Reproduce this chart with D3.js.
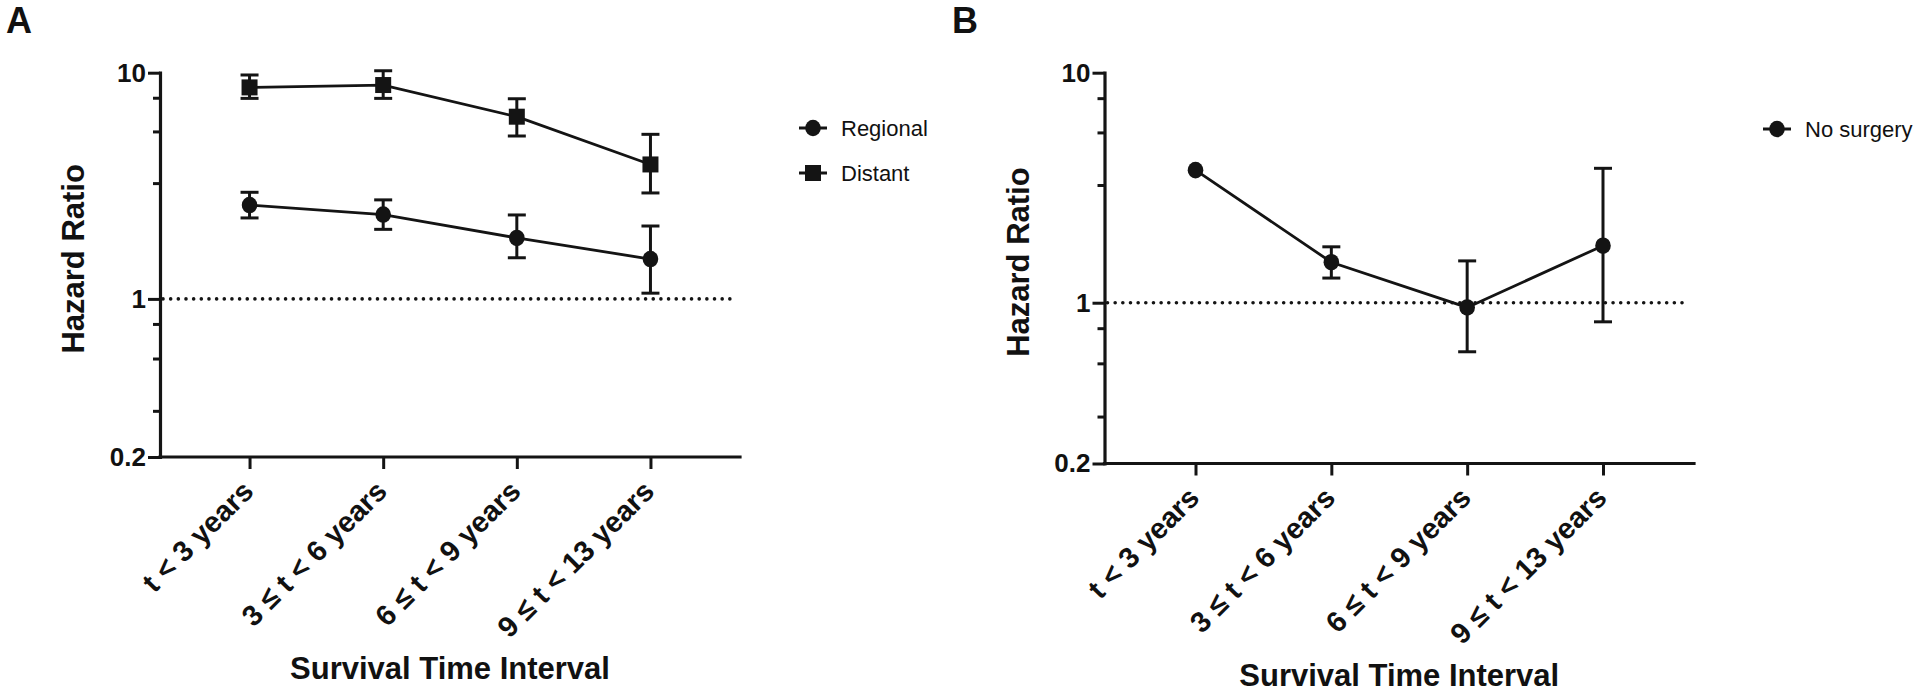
<!DOCTYPE html>
<html>
<head>
<meta charset="utf-8">
<script src="https://cdn.jsdelivr.net/npm/d3@7"></script>
<style>
  html, body { margin: 0; padding: 0; background: #fff; }
  svg { display: block; }
  text { font-family: "Liberation Sans", Arial, Helvetica, sans-serif; fill: #111; }
</style>
</head>
<body>
<svg id="chart" width="1920" height="697"></svg>
<script>
// ---------------- data ----------------
const categories = ["t < 3 years", "3 \u2264 t < 6 years", "6 \u2264 t < 9 years", "9 \u2264 t < 13 years"];

const regionalHR = [2.60, 2.36, 1.86, 1.50];
const regionalLo = [2.28, 2.03, 1.52, 1.06];
const regionalHi = [2.96, 2.74, 2.35, 2.10];

const distantHR = [8.61, 8.82, 6.39, 3.93];
const distantLo = [7.70, 7.70, 5.25, 2.94];
const distantHi = [9.77, 10.2, 7.67, 5.34];

const noSurgeryHR = [3.77, 1.50, 0.954, 1.77];
const noSurgeryLo = [3.66, 1.28, 0.612, 0.826];
const noSurgeryHi = [3.88, 1.75, 1.52, 3.84];

const yMajorTicks = [0.2, 1, 10];
const yMinorTicks = [0.32, 0.545, 0.775, 3.25, 5.5, 7.75];
const yDomain = [0.2, 10];
const refLine = 1;

const legendA = ["Regional", "Distant"];
const legendB = ["No surgery"];
const xTitle = "Survival Time Interval";
const yTitle = "Hazard Ratio";

// ---------------- drawing ----------------
const svg = d3.select("#chart");
const INK = "#141414";

function panel(cfg) {
  const g = svg.append("g");
  const x = d3.scalePoint().domain(categories).range([cfg.left, cfg.right]).padding(0.67);
  const y = d3.scaleLog().domain(yDomain).range([cfg.bottom, cfg.top]);

  // reference line at HR = 1
  g.append("line")
    .attr("x1", cfg.left + 3).attr("x2", cfg.right - 6)
    .attr("y1", y(refLine)).attr("y2", y(refLine))
    .attr("stroke", INK).attr("stroke-width", 3.6)
    .attr("stroke-linecap", "round").attr("stroke-dasharray", "0.01 7.65");

  // minor y ticks
  const yMinor = g.append("g").attr("transform", `translate(${cfg.left},0)`)
    .call(d3.axisLeft(y).tickValues(yMinorTicks).tickSize(7).tickSizeOuter(0).tickFormat(""));
  yMinor.select(".domain").remove();
  yMinor.selectAll(".tick line").attr("stroke", INK).attr("stroke-width", 3);

  // major y ticks with labels
  const yAx = g.append("g").attr("transform", `translate(${cfg.left},0)`)
    .call(d3.axisLeft(y).tickValues(yMajorTicks).tickSize(12).tickSizeOuter(0).tickPadding(2)
      .tickFormat(d => d3.format("~g")(d)));
  yAx.select(".domain").attr("stroke", INK).attr("stroke-width", 3.2).attr("stroke-linecap", "square");
  yAx.selectAll(".tick line").attr("stroke", INK).attr("stroke-width", 3);
  yAx.selectAll(".tick text").attr("font-size", 26).attr("font-weight", "bold")
    .attr("font-family", "'Liberation Sans', Arial, sans-serif").attr("fill", INK);

  // x axis
  const xAx = g.append("g").attr("transform", `translate(0,${cfg.bottom})`)
    .call(d3.axisBottom(x).tickSize(12).tickSizeOuter(0));
  xAx.select(".domain").attr("stroke", INK).attr("stroke-width", 3.2).attr("stroke-linecap", "square")
    .attr("d", `M${cfg.left},0H${cfg.right}`);
  xAx.selectAll(".tick line").attr("stroke", INK).attr("stroke-width", 3);
  xAx.selectAll(".tick text")
    .attr("font-size", 29).attr("font-weight", "bold")
    .attr("font-family", "'Liberation Sans', Arial, sans-serif").attr("fill", INK)
    .attr("text-anchor", "end").attr("dy", 0).attr("y", 0)
    .attr("transform", "translate(5,36) rotate(-45)");

  // axis titles
  g.append("text")
    .attr("x", (cfg.left + cfg.right) / 2).attr("y", cfg.bottom + 222)
    .attr("text-anchor", "middle").attr("font-size", 31).attr("font-weight", "bold")
    .text(xTitle);
  g.append("text")
    .attr("transform", `translate(${cfg.left - 76},${(cfg.top + cfg.bottom) / 2 - 6}) rotate(-90)`)
    .attr("text-anchor", "middle").attr("font-size", 31).attr("font-weight", "bold")
    .text(yTitle);

  // panel letter
  g.append("text").attr("x", cfg.letterX).attr("y", 33)
    .attr("font-size", 36).attr("font-weight", "bold").text(cfg.letter);

  // series
  cfg.series.forEach(s => {
    const pts = categories.map((c, i) => ({ c, v: s.hr[i], lo: s.lo[i], hi: s.hi[i] }));
    // error bars (hidden when shorter than the symbol, as in the original)
    const eb = g.append("g").attr("stroke", INK).attr("stroke-width", 3).attr("fill", "none");
    pts.forEach(p => {
      const yl = y(p.lo), yh = y(p.hi), cx = x(p.c);
      const show = (yl - y(p.v)) > 8 || (y(p.v) - yh) > 8;
      if (!show) return;
      eb.append("line").attr("x1", cx).attr("x2", cx).attr("y1", yl).attr("y2", yh);
      eb.append("line").attr("x1", cx - 9).attr("x2", cx + 9).attr("y1", yl).attr("y2", yl);
      eb.append("line").attr("x1", cx - 9).attr("x2", cx + 9).attr("y1", yh).attr("y2", yh);
    });
    // connecting line
    g.append("path").datum(pts)
      .attr("d", d3.line().x(p => x(p.c)).y(p => y(p.v)))
      .attr("fill", "none").attr("stroke", INK).attr("stroke-width", 2.8);
    // markers
    drawMarkers(g, s.shape, pts.map(p => [x(p.c), y(p.v)]));
  });

  // legend
  cfg.series.forEach((s, i) => {
    const lx = cfg.legendX, ly = cfg.legendY + i * 45;
    g.append("line").attr("x1", lx - 14).attr("x2", lx + 14).attr("y1", ly).attr("y2", ly)
      .attr("stroke", INK).attr("stroke-width", 3);
    drawMarkers(g, s.shape, [[lx, ly]]);
    g.append("text").attr("x", lx + 28).attr("y", ly).attr("dy", "0.36em")
      .attr("font-size", 22).attr("fill", "#222").text(s.name);
  });
}

function drawMarkers(g, shape, coords) {
  coords.forEach(([cx, cy]) => {
    if (shape === "square") {
      g.append("rect").attr("x", cx - 8).attr("y", cy - 8).attr("width", 16).attr("height", 16)
        .attr("fill", INK);
    } else {
      g.append("ellipse").attr("cx", cx).attr("cy", cy).attr("rx", 7.8).attr("ry", 8.3)
        .attr("fill", INK);
    }
  });
}

panel({
  left: 160, right: 740, top: 72.7, bottom: 457,
  letter: "A", letterX: 6,
  legendX: 813, legendY: 128,
  series: [
    { name: legendA[0], shape: "circle", hr: regionalHR, lo: regionalLo, hi: regionalHi },
    { name: legendA[1], shape: "square", hr: distantHR, lo: distantLo, hi: distantHi }
  ]
});

panel({
  left: 1104.5, right: 1694, top: 72.7, bottom: 463.5,
  letter: "B", letterX: 952,
  legendX: 1777, legendY: 129,
  series: [
    { name: legendB[0], shape: "circle", hr: noSurgeryHR, lo: noSurgeryLo, hi: noSurgeryHi }
  ]
});
</script>
</body>
</html>
